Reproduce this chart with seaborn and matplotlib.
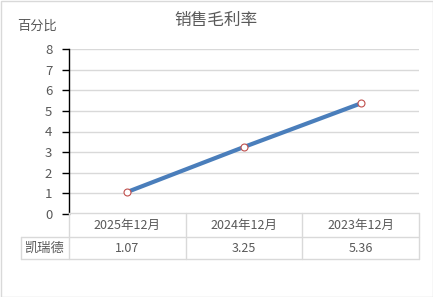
import matplotlib
matplotlib.use("Agg")
import matplotlib.pyplot as plt
import seaborn as sns
import pandas as pd
from matplotlib.patches import Rectangle
from matplotlib.lines import Line2D

categories = ["2025年12月", "2024年12月", "2023年12月"]
values = [1.07, 3.25, 5.36]
series_name = "凯瑞德"
value_labels = ["1.07", "3.25", "5.36"]
y_ticks = [0, 1, 2, 3, 4, 5, 6, 7, 8]
title = "销售毛利率"
y_label = "百分比"

sns.set_theme(style="white")
plt.rcParams["font.family"] = ["Noto Sans CJK SC", "DejaVu Sans"]

W, H = 433, 297
fig = plt.figure(figsize=(W / 100, H / 100), dpi=100)
fig.patch.set_facecolor("white")

L, R, T, B = 69, 419, 49, 214
ax = fig.add_axes([L / W, 1 - B / H, (R - L) / W, (B - T) / H])

df = pd.DataFrame({"cat": categories, "val": values})
sns.lineplot(data=df, x="cat", y="val", ax=ax, color="#4A7EBB", linewidth=3,
             marker="o", markersize=5, markerfacecolor="white",
             markeredgecolor="#C0504D", markeredgewidth=0.8, sort=False)

ax.set_xlim(-0.5, len(categories) - 0.5)
ax.set_ylim(0, 8)
ax.set_yticks(y_ticks)
ax.set_yticklabels([str(t) for t in y_ticks], fontsize=9.5, color="#595959")
ax.set_xticks([])
ax.set_xlabel("")
ax.set_ylabel("")
ax.grid(axis="y", color="#D9D9D9", linewidth=1)
ax.set_axisbelow(True)
for s in ["top", "right", "bottom"]:
    ax.spines[s].set_visible(False)
ax.spines["left"].set_color("black")
ax.spines["left"].set_linewidth(1)
ax.tick_params(axis="y", left=True, length=5, width=1, color="black", pad=7)

# title and y label
fig.text(216 / W, 1 - 20 / H, title, ha="center", va="center", fontsize=12, color="#595959")
fig.text(37 / W, 1 - 26 / H, y_label, ha="center", va="center", fontsize=9.5, color="#595959")

# data table
grid_c = "#D9D9D9"
row1_top, row_mid, row_bot = 213, 237, 259
tbl_left = 21
col_w = (R - L) / len(categories)

def fx(px):
    return px / W

def fy(py):
    return 1 - py / H

def hline(y, x0, x1):
    fig.add_artist(Line2D([fx(x0), fx(x1)], [fy(y), fy(y)], color=grid_c, linewidth=1))

def vline(x, y0, y1):
    fig.add_artist(Line2D([fx(x), fx(x)], [fy(y0), fy(y1)], color=grid_c, linewidth=1))

hline(row1_top, L, R)
hline(row_mid, tbl_left, R)
hline(row_bot, tbl_left, R)
vline(tbl_left, row_mid, row_bot)
for i in range(len(categories) + 1):
    vline(L + i * col_w, row1_top, row_bot)

for i, (c, v) in enumerate(zip(categories, value_labels)):
    cx = L + (i + 0.5) * col_w
    fig.text(fx(cx), fy((row1_top + row_mid) / 2), c, ha="center", va="center",
             fontsize=9, color="#595959")
    fig.text(fx(cx), fy((row_mid + row_bot) / 2), v, ha="center", va="center",
             fontsize=9, color="#595959")
fig.text(fx((tbl_left + L) / 2), fy((row_mid + row_bot) / 2), series_name,
         ha="center", va="center", fontsize=9.5, color="#595959")

# figure border
fig.add_artist(Rectangle((0.5 / W, 0.5 / H), (W - 1) / W, (H - 1) / H,
                         transform=fig.transFigure, fill=False,
                         edgecolor="#D9D9D9", linewidth=1))

fig.savefig("out.png", dpi=100)
